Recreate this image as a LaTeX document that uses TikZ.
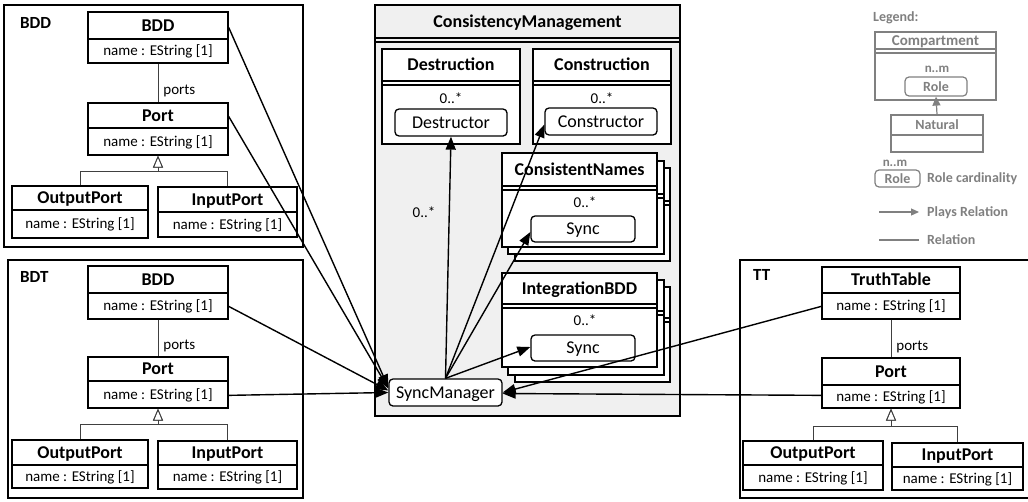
\documentclass[tikz,border=0pt]{standalone}
\usepackage{fontspec}
\setmainfont{Carlito}
\usetikzlibrary{arrows.meta,fit,calc}
\definecolor{cmfill}{RGB}{240,240,240}
\definecolor{leg}{RGB}{128,128,128}
\tikzset{
 pkg/.style={draw, line width=2pt, inner sep=0pt},
 cls/.style={draw, line width=1.3pt, fill=white, inner sep=0pt},
 sep/.style={line width=1.3pt},
 titlef/.style={font=\fontsize{18}{20}\selectfont\bfseries, inner sep=0pt, text height=11.6pt, text depth=0pt},
 pkgf/.style={font=\fontsize{17}{19}\selectfont\bfseries, inner sep=0pt, text height=11pt, text depth=0pt, anchor=west},
 attrf/.style={font=\fontsize{15}{17}\selectfont, inner sep=0pt, text height=9.7pt, text depth=0pt},
 rolebox/.style={draw, line width=1.3pt, fill=white, rounded corners=4pt, inner sep=0pt},
 rolef/.style={font=\fontsize{18}{20}\selectfont, inner sep=0pt, text height=11.6pt, text depth=0pt},
 plays/.style={line width=1.4pt, -{Triangle[length=13pt,width=10pt]}},
 assoc/.style={line width=0.8pt, draw=black!75},
 gen/.style={line width=0.8pt, draw=black!75, -{Triangle[open,length=12pt,width=10pt]}},
 legd/.style={draw=leg, line width=1.2pt, fill=white, inner sep=0pt},
 legf/.style={font=\fontsize{14}{16}\selectfont\bfseries, text=leg, inner sep=0pt, text height=9pt, text depth=0pt},
}
\newcommand\umlcls[8]{%
 \node[cls, fit={(#2,#3)(#4,#6)}] (#1) {};
 \draw[sep] (#2,#5) -- (#4,#5);
 \node[titlef] (#1t) at ({(#2+#4)/2},{(#3+#5)/2}) {#7};
 \node[attrf] (#1a) at ({(#2+#4)/2},{(#5+#6)/2}) {#8};
}
\newcommand\umlcomp[7]{%
 \node[cls, fit={(#2,#3)(#4,#6)}] (#1) {};
 \draw[sep] (#2,#5) -- (#4,#5) (#2,#5+4) -- (#4,#5+4);
 \node[titlef] (#1t) at ({(#2+#4)/2},{(#3+#5)/2}) {#7};
}
\begin{document}
\begin{tikzpicture}[x=1pt,y=-1pt]
\useasboundingbox (0,0) rectangle (1028,501);

% ---------- packages ----------
\node[pkg, fit={(4,5)(303,247)}] (pBDD) {};
\node[pkgf] (pBDDl) at (20,23) {BDD};
\node[pkg, fit={(8,260)(303,498)}] (pBDT) {};
\node[pkgf] (pBDTl) at (20,277) {BDT};
\node[pkg, fit={(740,260)(1034,498)}] (pTT) {};
\node[pkgf] (pTTl) at (753,275) {TT};

% BDD package
\umlcls{bddA}{88}{12}{228}{39}{63}{BDD}{name : EString [1]}
\umlcls{portA}{88}{103}{228}{128}{155}{Port}{name : EString [1]}
\umlcls{outA}{12}{186}{148}{210}{238}{OutputPort}{name : EString [1]}
\umlcls{inA}{158}{187}{297}{212}{237}{InputPort}{name : EString [1]}
\draw[assoc] (bddA.south) -- (portA.north) node[attrf, pos=0.68, anchor=west, xshift=5pt] (portsA) {ports};
\draw[gen] (outA.north) -- ++(0,-14) -| (portA.south);
\draw[gen] (inA.north) -- ++(0,-15) -| (portA.south);

% BDT package
\umlcls{bddB}{88}{266}{228}{293}{319}{BDD}{name : EString [1]}
\umlcls{portB}{88}{357}{228}{381}{408}{Port}{name : EString [1]}
\umlcls{outB}{12}{440}{148}{465}{488}{OutputPort}{name : EString [1]}
\umlcls{inB}{158}{441}{297}{465}{489}{InputPort}{name : EString [1]}
\draw[assoc] (bddB.south) -- (portB.north) node[attrf, pos=0.68, anchor=west, xshift=5pt] (portsB) {ports};
\draw[gen] (outB.north) -- ++(0,-15) -| (portB.south);
\draw[gen] (inB.north) -- ++(0,-16) -| (portB.south);

% TT package
\umlcls{ttC}{822}{267}{960}{293}{319}{TruthTable}{name : EString [1]}
\umlcls{portC}{822}{358}{960}{385}{408}{Port}{name : EString [1]}
\umlcls{outC}{743}{441}{883}{465}{490}{OutputPort}{name : EString [1]}
\umlcls{inC}{892}{443}{1023}{467}{490}{InputPort}{name : EString [1]}
\draw[assoc] (ttC.south) -- (portC.north) node[attrf, pos=0.68, anchor=west, xshift=5pt] (portsC) {ports};
\draw[gen] (outC.north) -- ++(0,-14) -| (portC.south);
\draw[gen] (inC.north) -- ++(0,-16) -| (portC.south);

% ---------- ConsistencyManagement ----------
\node[cls, fill=cmfill, fit={(375,5)(680,416)}] (cm) {};
\draw[sep] (375,38) -- (680,38) (375,42) -- (680,42);
\node[titlef] (cmt) at (527.5,22) {ConsistencyManagement};

\umlcomp{dst}{382}{49}{520}{81}{144}{Destruction}
\node[attrf] (dstm) at (451,99) {0..*};
\node[rolebox, fit={(395,109)(507,136)}] (dest) {};
\node[rolef] at (dest.center) {Destructor};

\umlcomp{cst}{533}{49}{671}{81}{144}{Construction}
\node[attrf] (cstm) at (602,99) {0..*};
\node[rolebox, fit={(545,108)(657,135)}] (cons) {};
\node[rolef] at (cons.center) {Constructor};

\umlcomp{cn3}{515}{168}{670}{201}{261}{}
\umlcomp{cn2}{508}{161}{664}{194}{254}{}
\umlcomp{cn}{502}{153}{657}{186}{247}{ConsistentNames}
\node[attrf] (cnm) at (585,203) {0..*};
\node[rolebox, fit={(531,216)(635,242)}] (syncA) {};
\node[rolef] at (syncA.center) {Sync};

\umlcomp{ib3}{515}{287}{670}{318}{382}{}
\umlcomp{ib2}{508}{280}{664}{311}{375}{}
\umlcomp{ib}{502}{273}{657}{304}{367}{IntegrationBDD}
\node[attrf] (ibm) at (585,321) {0..*};
\node[rolebox, fit={(531,335)(635,361)}] (syncB) {};
\node[rolef] at (syncB.center) {Sync};

\node[rolebox, fit={(389,379)(502,406)}] (sm) {};
\node[rolef] at (sm.center) {SyncManager};
\node[attrf] (smm) at (424,213) {0..*};

% ---------- connectors ----------
\draw[plays] (sm.north) -- (dest.south);
\draw[plays] (sm.north) -- ([yshift=-3pt]cons.west);
\draw[plays] (sm.north) -- ([yshift=-3pt]syncA.west);
\draw[plays] (sm.north) -- ([yshift=1pt]syncB.west);

\draw[plays] ([yshift=-16pt]bddA.north east) -- ([yshift=5pt]sm.west);
\draw[plays] ([yshift=-14pt]portA.north east) -- ([yshift=4pt]sm.west);
\draw[plays] ([yshift=-41pt]bddB.north east) -- ([yshift=2pt]sm.west);
\draw[plays] ([yshift=-39pt]portB.north east) -- ([yshift=0pt]sm.west);
\draw[plays] ([yshift=-40pt]ttC.north west) -- ([yshift=0pt]sm.east);
\draw[plays] ([yshift=-38pt]portC.north west) -- ([yshift=-1pt]sm.east);

% ---------- legend ----------
\node[legf, anchor=west] (legT) at (873,17) {Legend:};
\node[legd, fit={(875,32)(996,100)}] (lcomp) {};
\draw[draw=leg, line width=1.2pt] (875,49) -- (996,49) (875,53) -- (996,53);
\node[legf, font=\fontsize{15}{17}\selectfont\bfseries] at (935.5,41) {Compartment};
\node[legf, font=\fontsize{13}{15}\selectfont\bfseries] (lnm) at (937,68) {n..m};
\node[legd, rounded corners=4pt, fit={(905,77)(967,96)}] (lrole) {};
\node[legf] at (lrole.center) {Role};
\node[legd, fit={(891,115)(983,152)}] (lnat) {};
\draw[draw=leg, line width=1.2pt] (891,135) -- (983,135);
\node[legf] at (937,125) {Natural};
\draw[draw=leg, line width=1.2pt, -{Triangle[length=9pt,width=8pt]}] (lnat.north) -- (lrole.south);
\node[legf, font=\fontsize{13}{15}\selectfont\bfseries] (lnm2) at (895,162) {n..m};
\node[legd, rounded corners=4pt, fit={(875,170)(920,187)}] (lrole2) {};
\node[legf] at (lrole2.center) {Role};
\node[legf, anchor=west] (lrc) at (927,178) {Role cardinality};
\coordinate (pa1) at (879,212);
\node[legf, anchor=west] (lpr) at (927,212) {Plays Relation};
\draw[draw=leg, line width=1.2pt, -{Triangle[length=8pt,width=7pt]}] (pa1) -- ([xshift=-8pt]lpr.west);
\coordinate (ra1) at (879,240);
\node[legf, anchor=west] (lr) at (927,240) {Relation};
\draw[draw=leg, line width=1.2pt] (ra1) -- ([xshift=-8pt]lr.west);
\end{tikzpicture}
\end{document}
